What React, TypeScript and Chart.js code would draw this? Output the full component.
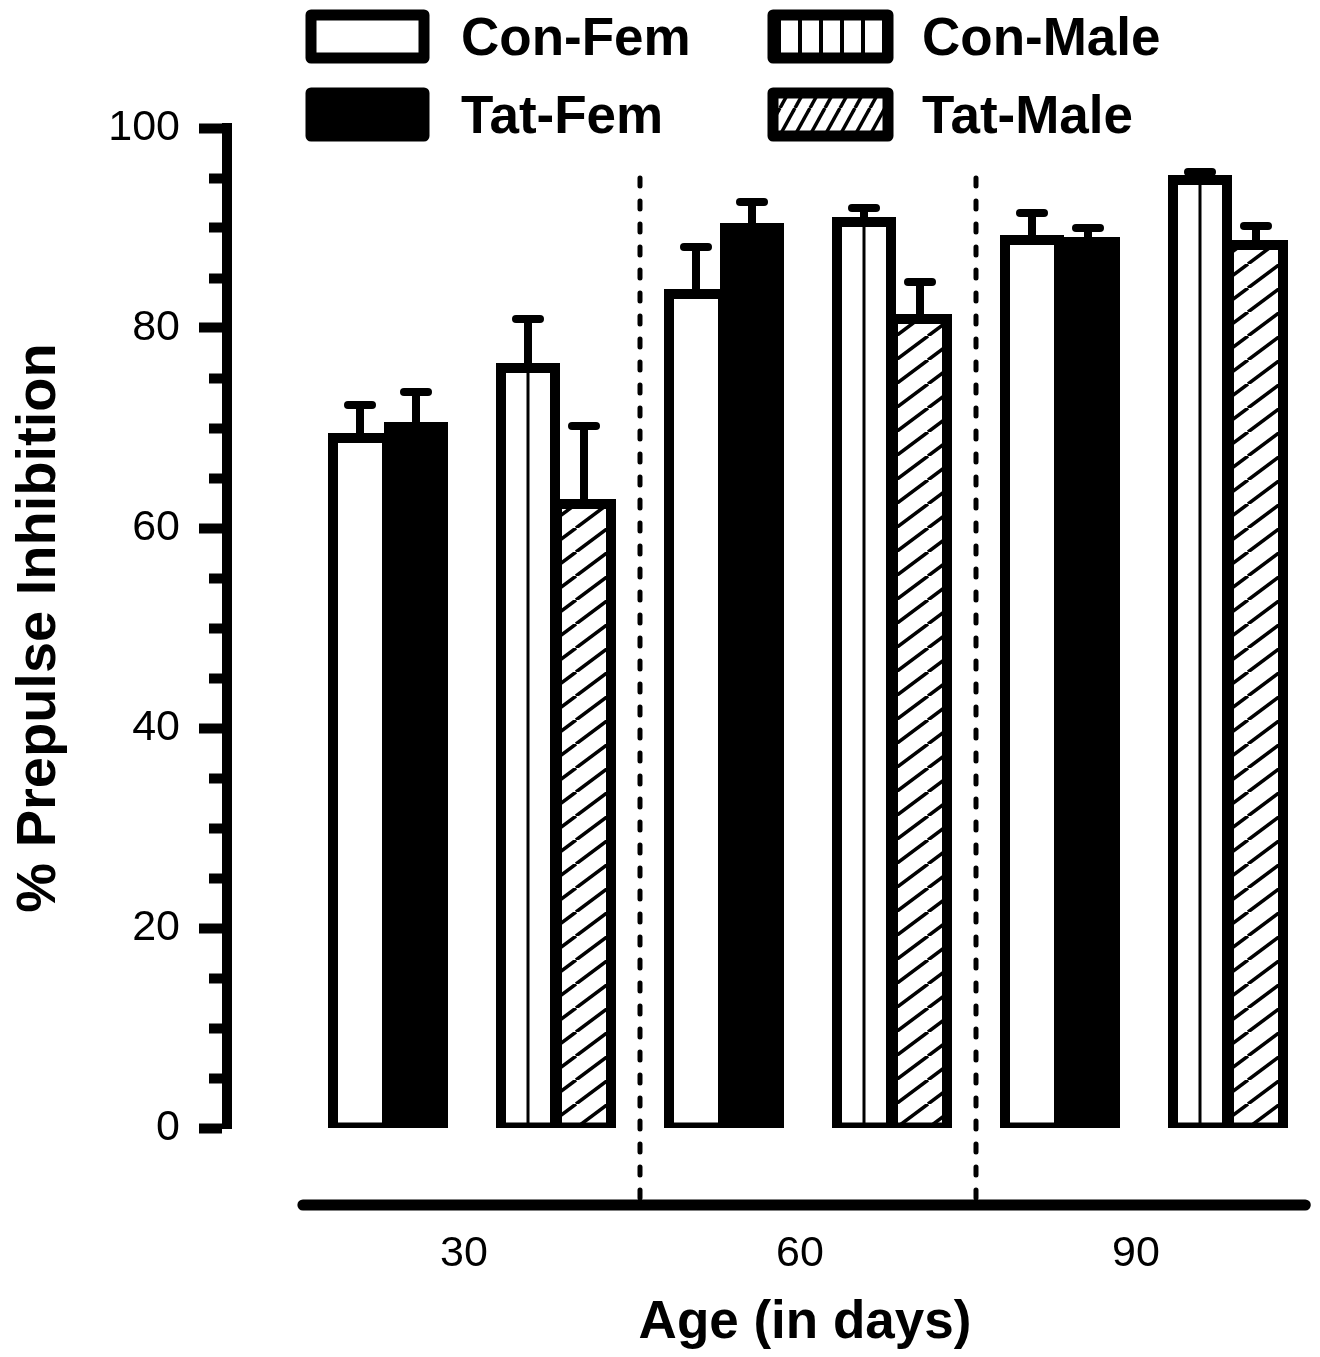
import React, { useEffect, useRef } from "react";
import { Chart, registerables } from "chart.js";

Chart.register(...registerables);

// ---- data ----
const ages = [30, 60, 90];
const seriesNames = ["Con-Fem", "Tat-Fem", "Con-Male", "Tat-Male"];
const conFem = [69.0, 83.4, 88.8];
const conFemErr = [3.3, 4.7, 2.7];
const tatFem = [70.1, 90.0, 88.6];
const tatFemErr = [3.5, 2.6, 1.4];
const conMale = [76.0, 90.6, 94.8];
const conMaleErr = [4.9, 1.4, 0.8];
const tatMale = [62.4, 80.9, 88.3];
const tatMaleErr = [7.8, 3.7, 1.9];
const yTickValues = [0, 5, 10, 15, 20, 25, 30, 35, 40, 45, 50, 55, 60, 65, 70, 75, 80, 85, 90, 95, 100];
const yLabelledTicks = [0, 20, 40, 60, 80, 100];
const groupDividers = [45, 75];

const FONT = "'Liberation Sans', Arial, Helvetica, sans-serif";

// bar offsets (x units) of each series inside an age group
const seriesOffsets = [-10, -5, 5, 10];

function vLinePattern(period: number, lineW: number, anchorX: number): CanvasPattern | string {
  const c = document.createElement("canvas");
  c.width = period;
  c.height = 8;
  const g = c.getContext("2d");
  if (!g) return "#fff";
  g.fillStyle = "#fff";
  g.fillRect(0, 0, period, 8);
  g.fillStyle = "#000";
  g.fillRect(0, 0, lineW / 2, 8);
  g.fillRect(period - lineW / 2, 0, lineW / 2, 8);
  const p = g.createPattern(c, "repeat");
  if (!p) return "#fff";
  try {
    p.setTransform(new DOMMatrix().translate(anchorX, 0));
  } catch (e) {
    /* ignore */
  }
  return p;
}

function hatchPattern(w: number, h: number, lineW: number): CanvasPattern | string {
  const c = document.createElement("canvas");
  c.width = w;
  c.height = h;
  const g = c.getContext("2d");
  if (!g) return "#fff";
  g.fillStyle = "#fff";
  g.fillRect(0, 0, w, h);
  g.strokeStyle = "#000";
  g.lineWidth = lineW;
  for (let k = -1; k <= 1; k++) {
    g.beginPath();
    g.moveTo(k * w, h);
    g.lineTo(k * w + w, 0);
    g.stroke();
  }
  return g.createPattern(c, "repeat") || "#fff";
}

export default function App() {
  const ref = useRef<HTMLCanvasElement>(null);

  useEffect(() => {
    const canvas = ref.current;
    if (!canvas) return;

    const barHatch = hatchPattern(32, 24, 3.5);
    const legendHatch = hatchPattern(15, 27, 3.5);
    const legendVLines = vLinePattern(21, 4, 800);

    const conMaleFill = (c: any) => {
      const xs = c.chart && c.chart.scales ? c.chart.scales.x : null;
      const raw = c.raw;
      if (!xs || !raw) return "#fff";
      return vLinePattern(42, 3, xs.getPixelForValue(raw.x));
    };

    const makeData = (vals: number[], s: number) =>
      ages.map((a, i) => ({ x: a + seriesOffsets[s], y: vals[i] }));

    const values = [conFem, tatFem, conMale, tatMale];
    const errors = [conFemErr, tatFemErr, conMaleErr, tatMaleErr];
    const fills: any[] = ["#ffffff", "#000000", conMaleFill, barHatch];
    const legendFills: any[] = ["#ffffff", "#000000", legendVLines, legendHatch];
    const orders = [2, 1, 2, 1];

    const datasets = seriesNames.map((name, s) => ({
      type: "bar" as const,
      label: name,
      data: makeData(values[s], s),
      errors: errors[s],
      backgroundColor: fills[s],
      borderColor: "#000",
      borderWidth: 10,
      borderSkipped: false,
      inflateAmount: 5,
      barThickness: 54,
      grouped: false,
      order: orders[s],
    }));

    const errorBarPlugin = {
      id: "errorBars",
      afterDatasetsDraw(chart: any) {
        const { ctx } = chart;
        const y = chart.scales.y;
        chart.data.datasets.forEach((ds: any, di: number) => {
          const meta = chart.getDatasetMeta(di);
          meta.data.forEach((el: any, i: number) => {
            const v = ds.data[i].y;
            const e = ds.errors[i];
            const base = y.getPixelForValue(v);
            const top = y.getPixelForValue(v + e);
            ctx.save();
            ctx.strokeStyle = "#000";
            ctx.lineWidth = 8;
            ctx.lineCap = "round";
            ctx.beginPath();
            ctx.moveTo(el.x, base);
            ctx.lineTo(el.x, top);
            ctx.stroke();
            ctx.beginPath();
            ctx.moveTo(el.x - 12, top);
            ctx.lineTo(el.x + 12, top);
            ctx.stroke();
            ctx.restore();
          });
        });
      },
    };

    const axisPlugin = {
      id: "offsetXAxis",
      beforeDatasetsDraw(chart: any) {
        const { ctx, chartArea } = chart;
        const x = chart.scales.x;
        const y = chart.scales.y;
        const axisY = chartArea.bottom + 77;
        ctx.save();
        ctx.strokeStyle = "#000";
        ctx.lineWidth = 5;
        ctx.lineCap = "round";
        ctx.setLineDash([8, 15]);
        groupDividers.forEach((d) => {
          const px = x.getPixelForValue(d);
          ctx.beginPath();
          ctx.moveTo(px, y.getPixelForValue(95));
          ctx.lineTo(px, axisY);
          ctx.stroke();
        });
        ctx.restore();
      },
      afterDraw(chart: any) {
        const { ctx, chartArea } = chart;
        const x = chart.scales.x;
        const axisY = chartArea.bottom + 77;
        ctx.save();
        ctx.strokeStyle = "#000";
        ctx.lineWidth = 11;
        ctx.lineCap = "round";
        ctx.beginPath();
        ctx.moveTo(x.getPixelForValue(14.9), axisY);
        ctx.lineTo(x.getPixelForValue(104.4), axisY);
        ctx.stroke();
        ctx.restore();
      },
    };

    const legendPlugin = {
      id: "gridLegend",
      afterDraw(chart: any) {
        const { ctx } = chart;
        const boxX = [311, 773];
        const boxY = [15, 93];
        const boxW = [113, 115];
        const textX = [461, 922];
        const textBase = [55, 133];
        chart.data.datasets.forEach((ds: any, i: number) => {
          const col = i >= 2 ? 1 : 0;
          const row = i % 2;
          ctx.save();
          ctx.fillStyle = legendFills[i];
          ctx.fillRect(boxX[col], boxY[row], boxW[col], 43);
          ctx.lineWidth = 11;
          ctx.lineJoin = "round";
          ctx.strokeStyle = "#000";
          ctx.strokeRect(boxX[col], boxY[row], boxW[col], 43);
          ctx.fillStyle = "#000";
          ctx.font = `bold 53px ${FONT}`;
          ctx.textAlign = "left";
          ctx.textBaseline = "alphabetic";
          ctx.fillText(ds.label, textX[col], textBase[row]);
          ctx.restore();
        });
      },
    };

    const chart = new Chart(canvas, {
      type: "bar",
      data: { datasets: datasets as any },
      plugins: [axisPlugin, errorBarPlugin, legendPlugin],
      options: {
        animation: false,
        responsive: false,
        devicePixelRatio: 1,
        layout: { padding: { top: 128, left: 0, right: 0, bottom: 0 } },
        plugins: {
          legend: { display: false },
          tooltip: { enabled: false },
          title: { display: false },
        },
        scales: {
          x: {
            type: "linear",
            offset: false,
            min: 8.125,
            max: 111.339,
            afterFit: (s: any) => {
              s.height = 229;
            },
            afterBuildTicks: (s: any) => {
              s.ticks = ages.map((v) => ({ value: v }));
            },
            grid: { display: false, drawTicks: false, offset: false },
            border: { display: false },
            ticks: {
              autoSkip: false,
              maxRotation: 0,
              color: "#000",
              padding: 100,
              labelOffset: -8,
              font: { family: FONT, size: 43 },
              callback: (v: any) => String(v),
            },
            title: {
              display: true,
              text: "Age (in days)",
              color: "#000",
              font: { family: FONT, size: 53, weight: "bold" },
              padding: { top: 0, bottom: 2 },
            },
          },
          y: {
            type: "linear",
            min: 0,
            max: 100,
            afterFit: (s: any) => {
              s.width = 227;
            },
            afterBuildTicks: (s: any) => {
              s.ticks = yTickValues.map((v) => ({ value: v }));
            },
            grid: {
              drawOnChartArea: false,
              drawTicks: true,
              tickLength: 28,
              tickWidth: 10,
              tickColor: "#000",
              tickBorderDash: (c: any) =>
                c.tick && yLabelledTicks.indexOf(c.tick.value) < 0 ? [13, 10] : [],
              tickBorderDashOffset: (c: any) =>
                c.tick && yLabelledTicks.indexOf(c.tick.value) < 0 ? 13 : 0,
            },
            border: { display: true, width: 10, color: "#000" },
            ticks: {
              autoSkip: false,
              color: "#000",
              padding: 19,
              font: { family: FONT, size: 43 },
              callback: (v: any) => (yLabelledTicks.indexOf(Number(v)) >= 0 ? String(v) : ""),
            },
            title: {
              display: true,
              text: "% Prepulse Inhibition",
              color: "#000",
              font: { family: FONT, size: 56, weight: "bold" },
              padding: { top: 6, bottom: 0 },
            },
          },
        },
      } as any,
    });

    return () => chart.destroy();
  }, []);

  return (
    <div
      style={{
        position: "absolute",
        left: 0,
        top: 0,
        width: 1320,
        height: 1357,
        overflow: "hidden",
        background: "#fff",
      }}
    >
      <canvas ref={ref} width={1383} height={1357} style={{ display: "block", width: 1383, height: 1357 }} />
    </div>
  );
}
